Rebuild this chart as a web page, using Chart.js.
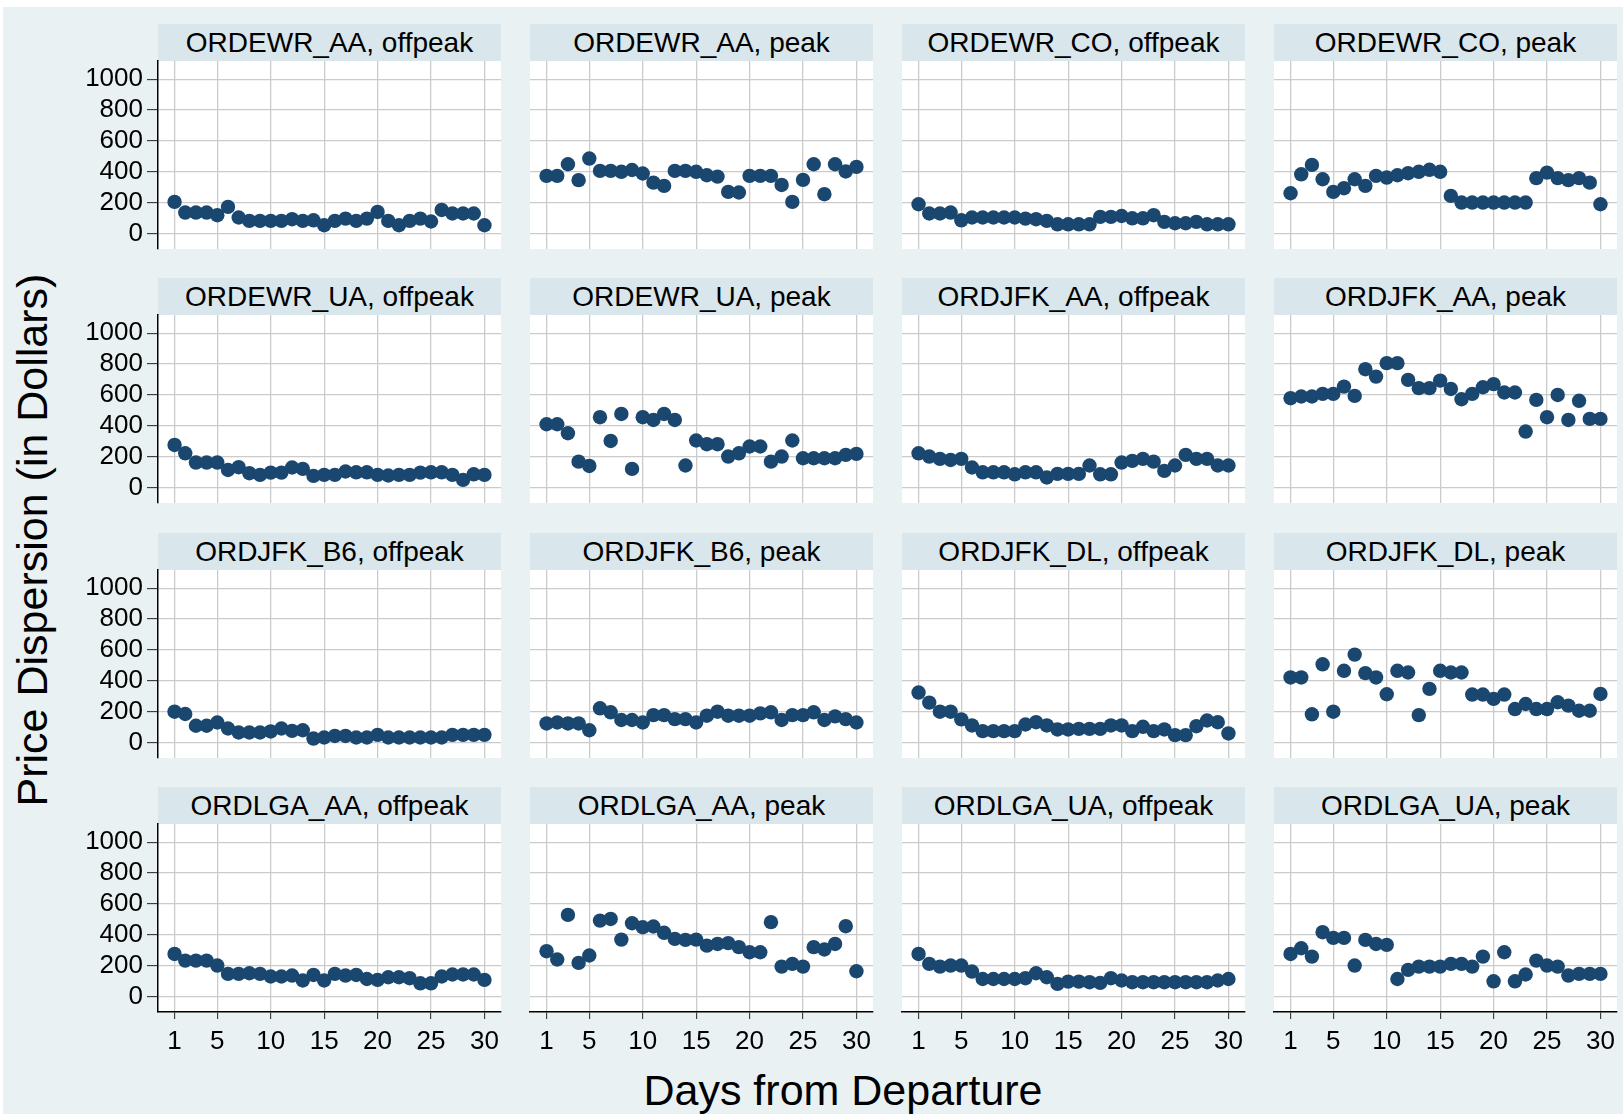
<!DOCTYPE html>
<html>
<head>
<meta charset="utf-8">
<script src="https://cdn.jsdelivr.net/npm/chart.js@4.4.0/dist/chart.umd.min.js"></script>
<style>
  html, body { margin: 0; padding: 0; background: #fff; }
  #page { position: relative; width: 1623px; height: 1114px; overflow: hidden; background: #fff; }
  #bg { position: absolute; left: 3px; top: 7px; right: 0; bottom: 0; background: #e9f1f3; }
  .strip { position: absolute; background: #d9e6eb; color: #000; text-align: center; white-space: nowrap;
           font: 28px "Liberation Sans", Arial, sans-serif; }
  .title { position: absolute; color: #000; text-align: center; white-space: nowrap;
           font: 43px "Liberation Sans", Arial, sans-serif; height: 50px; line-height: 50px; }
  canvas { position: absolute; }
</style>
</head>
<body>
<div id="page">
  <div id="bg"></div>
  <div class="title" style="left:443px; top:1065px; width:800px;">Days from Departure</div>
  <div class="title" style="left:-318px; top:515px; width:700px; transform:rotate(-90deg);">Price Dispersion (in Dollars)</div>
</div>
<script>
// x categories and ticks
const days = [1,2,3,4,5,6,7,8,9,10,11,12,13,14,15,16,17,18,19,20,21,22,23,24,25,26,27,28,29,30];
const xTicks = [1, 5, 10, 15, 20, 25, 30];
const yTicks = [0, 200, 400, 600, 800, 1000];

// price dispersion per route / period
const ewrAaOff  = [205,136,136,136,119,173,104,82,82,82,82,93,82,86,54,82,97,82,97,140,82,54,82,97,78,153,130,130,130,54];
const ewrAaPeak = [374,374,449,346,486,406,406,400,412,389,330,309,406,406,400,378,369,270,266,374,374,374,315,205,348,449,255,449,402,432];
const ewrCoOff  = [190,130,130,136,86,104,104,104,104,104,97,93,82,60,60,60,60,108,108,114,99,99,119,76,67,67,76,60,60,60];
const ewrCoPeak = [261,384,445,352,270,294,352,309,374,363,378,391,400,413,400,244,201,201,201,201,201,201,201,359,395,359,346,359,330,190];
const ewrUaOff  = [276,222,162,162,162,114,132,93,82,97,97,130,121,76,82,82,104,99,99,82,78,82,82,97,99,99,82,50,86,82];
const ewrUaPeak = [410,410,352,168,140,456,302,477,121,456,438,477,438,143,305,281,281,201,222,266,266,168,201,305,190,190,190,190,212,218];
const jfkAaOff  = [222,201,186,179,186,130,99,99,99,86,99,99,65,89,89,89,143,86,86,162,173,186,168,108,143,212,186,186,143,143];
const jfkAaPeak = [579,590,590,607,607,654,594,767,719,806,806,698,644,644,693,639,572,607,650,670,616,616,363,568,456,600,438,562,445,445];
const jfkB6Off  = [200,185,109,109,130,91,65,65,65,72,91,76,80,26,33,43,43,33,33,50,33,33,33,33,33,33,50,50,50,50];
const jfkB6Peak = [124,130,124,124,80,222,196,146,146,130,178,178,152,152,130,174,200,174,174,174,189,196,146,178,178,196,146,170,152,130];
const jfkDlOff  = [324,259,200,200,150,111,74,74,74,74,117,132,111,85,85,89,89,89,111,111,74,102,74,85,48,48,106,143,132,59];
const jfkDlPeak = [422,422,183,507,200,465,570,450,422,313,465,454,178,348,465,454,454,311,311,283,311,217,250,217,217,261,239,206,206,315];
const lgaAaOff  = [276,233,233,233,201,147,147,151,147,130,130,136,104,140,104,147,136,140,114,108,125,125,119,86,86,130,143,143,143,108];
const lgaAaPeak = [294,240,529,218,266,492,503,369,475,449,454,413,374,367,369,330,341,346,320,287,287,482,194,212,194,320,305,341,456,164];
const lgaUaOff  = [276,212,194,201,201,162,114,114,114,114,119,151,125,82,97,97,93,89,119,104,93,93,93,93,93,93,93,93,104,114];
const lgaUaPeak = [276,313,259,417,380,380,201,367,341,335,114,173,194,194,194,212,212,194,259,99,287,99,143,233,201,194,136,147,147,147];

const panelNames = [
  'ORDEWR_AA, offpeak', 'ORDEWR_AA, peak', 'ORDEWR_CO, offpeak', 'ORDEWR_CO, peak',
  'ORDEWR_UA, offpeak', 'ORDEWR_UA, peak', 'ORDJFK_AA, offpeak', 'ORDJFK_AA, peak',
  'ORDJFK_B6, offpeak', 'ORDJFK_B6, peak', 'ORDJFK_DL, offpeak', 'ORDJFK_DL, peak',
  'ORDLGA_AA, offpeak', 'ORDLGA_AA, peak', 'ORDLGA_UA, offpeak', 'ORDLGA_UA, peak'
];
const panelValues = [
  ewrAaOff, ewrAaPeak, ewrCoOff, ewrCoPeak,
  ewrUaOff, ewrUaPeak, jfkAaOff, jfkAaPeak,
  jfkB6Off, jfkB6Peak, jfkDlOff, jfkDlPeak,
  lgaAaOff, lgaAaPeak, lgaUaOff, lgaUaPeak
];

// layout (px)
const COL_LEFT = [158, 530, 902, 1274];
const ROW_TOP = [61, 315, 570, 824];
const PLOT_W = 343, PLOT_H = 188, STRIP_H = 37;
const M = 24, Y_AXIS_W = 80, X_AXIS_H = 50;

const MARKER = '#1a476f';
const GRID = '#cbcbcb';

Chart.defaults.font.family = '"Liberation Sans", Arial, sans-serif';
Chart.defaults.color = '#000';

// white plot region
const plotBg = {
    id: 'plotBg',
    beforeDraw(chart) {
        const a = chart.chartArea;
        const ctx = chart.ctx;
        ctx.save();
        ctx.fillStyle = '#ffffff';
        ctx.fillRect(a.left, a.top, a.right - a.left, a.bottom - a.top);
        ctx.restore();
    }
};

const page = document.getElementById('page');

panelValues.forEach(function (values, i) {
    const col = i % 4;
    const row = Math.floor(i / 4);
    const showY = col === 0;
    const showX = row === 3;
    const yw = showY ? Y_AXIS_W : 0;
    const xh = showX ? X_AXIS_H : 0;

    // header strip
    const strip = document.createElement('div');
    strip.className = 'strip';
    strip.style.left = COL_LEFT[col] + 'px';
    strip.style.top = (ROW_TOP[row] - STRIP_H) + 'px';
    strip.style.width = PLOT_W + 'px';
    strip.style.height = STRIP_H + 'px';
    strip.style.lineHeight = STRIP_H + 'px';
    strip.textContent = panelNames[i];
    page.appendChild(strip);

    const canvas = document.createElement('canvas');
    const w = M * 2 + yw + PLOT_W;
    const h = M * 2 + PLOT_H + xh;
    canvas.width = w;
    canvas.height = h;
    canvas.style.width = w + 'px';
    canvas.style.height = h + 'px';
    canvas.style.left = (COL_LEFT[col] - M - yw) + 'px';
    canvas.style.top = (ROW_TOP[row] - M) + 'px';
    page.appendChild(canvas);

    new Chart(canvas.getContext('2d'), {
        type: 'scatter',
        data: {
            datasets: [{
                data: days.map((d, k) => ({ x: d, y: values[k] })),
                pointRadius: 7.2,
                pointHoverRadius: 7.2,
                pointBackgroundColor: MARKER,
                pointBorderWidth: 0
            }]
        },
        options: {
            responsive: false,
            animation: false,
            events: [],
            layout: { padding: M },
            plugins: {
                legend: { display: false },
                tooltip: { enabled: false }
            },
            scales: {
                x: {
                    type: 'linear',
                    min: -0.55,
                    max: 31.55,
                    afterBuildTicks: s => { s.ticks = xTicks.map(v => ({ value: v })); },
                    afterFit: s => { s.height = xh; },
                    grid: { color: GRID, lineWidth: 1.3, drawTicks: showX, tickLength: 7, tickColor: '#222', tickWidth: 1 },
                    border: { display: showX, color: '#000', width: 1.5 },
                    ticks: { display: showX, font: { size: 26 }, color: '#000', padding: 7,
                             maxRotation: 0, autoSkip: false, callback: v => String(v) }
                },
                y: {
                    type: 'linear',
                    min: -100,
                    max: 1118,
                    afterBuildTicks: s => { s.ticks = yTicks.map(v => ({ value: v })); },
                    afterFit: s => { s.width = yw; },
                    grid: { color: GRID, lineWidth: 1.3, drawTicks: showY, tickLength: 11, tickColor: '#222', tickWidth: 1 },
                    border: { display: showY, color: '#000', width: 1.5 },
                    ticks: { display: showY, font: { size: 26 }, color: '#000', padding: 4,
                             autoSkip: false, callback: v => String(v) }
                }
            }
        },
        plugins: [plotBg]
    });
});
</script>
</body>
</html>
